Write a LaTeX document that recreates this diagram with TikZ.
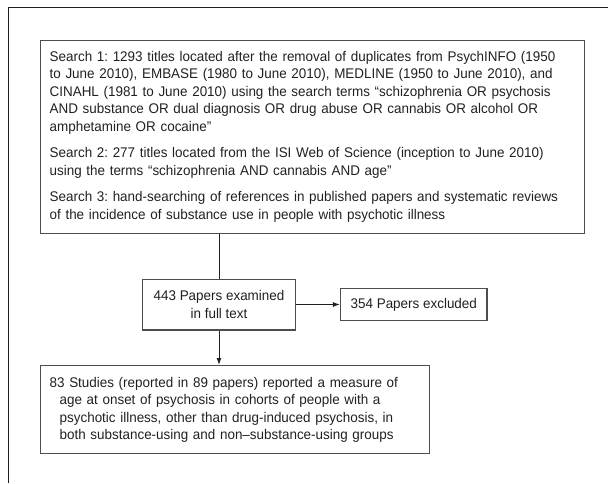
\documentclass[tikz,border=0pt]{standalone}
\usepackage{fontspec}
\setmainfont[FakeStretch=0.96]{Liberation Sans}
\usepackage{tikz}
\usetikzlibrary{positioning,arrows.meta}
\definecolor{inkgray}{HTML}{231F20}
\definecolor{boxgray}{HTML}{4D4D4D}
\frenchspacing
\hyphenpenalty=10000

\begin{document}
\begin{tikzpicture}[
    x=1pt, y=-1pt,
    font=\fontsize{14}{17.5}\selectfont,
    box/.style={rectangle, draw=boxgray, line width=1.3pt, text=inkgray, inner xsep=9pt, inner ysep=8pt},
    arrow/.style={-{Latex[length=7pt,width=5pt]}, line width=1pt, draw=inkgray},
    link/.style={line width=1pt, draw=inkgray}
]
    \useasboundingbox (0,0) rectangle (608,483);
    % figure frame (cut at right and bottom)
    \draw[line width=1pt, inkgray] (608,7.5) -- (8.5,7.5) -- (8.5,483);

    \node[box, anchor=north west, text width=526pt, minimum height=193pt, align=left] (search) at (40,39.5)
        {Search 1: 1293 titles located after the removal of duplicates from PsychINFO (1950\\
         to June 2010), EMBASE (1980 to June 2010), MEDLINE (1950 to June 2010), and\\
         CINAHL (1981 to June 2010) using the search terms “schizophrenia OR psychosis\\
         AND substance OR dual diagnosis OR drug abuse OR cannabis OR alcohol OR\\
         amphetamine OR cocaine”\\[9pt]
         Search 2: 277 titles located from the ISI Web of Science (inception to June 2010)\\
         using the terms “schizophrenia AND cannabis AND age”\\[9pt]
         Search 3: hand-searching of references in published papers and systematic reviews\\
         of the incidence of substance use in people with psychotic illness};

    \node[box, minimum width=153.4pt, minimum height=50.7pt, align=center] (examined) at (219,304.5)
        {443 Papers examined\\in full text};
    \node[box, minimum width=146.4pt, minimum height=32pt, right=43.6pt of examined] (excluded)
        {354 Papers excluded};

    \node[box, anchor=north west, text width=371pt, minimum height=88pt, align=left] (studies) at (40,365)
        {83 Studies (reported in 89 papers) reported a measure of\\
         \hspace*{10pt}age at onset of psychosis in cohorts of people with a\\
         \hspace*{10pt}psychotic illness, other than drug-induced psychosis, in\\
         \hspace*{10pt}both substance-using and non--substance-using groups};

    \draw[link] (search.south -| examined.north) -- (examined.north);
    \draw[arrow] (examined.east) -- (examined.east -| excluded.west);
    \draw[arrow] (examined.south) -- (examined.south |- studies.north);
\end{tikzpicture}
\end{document}
